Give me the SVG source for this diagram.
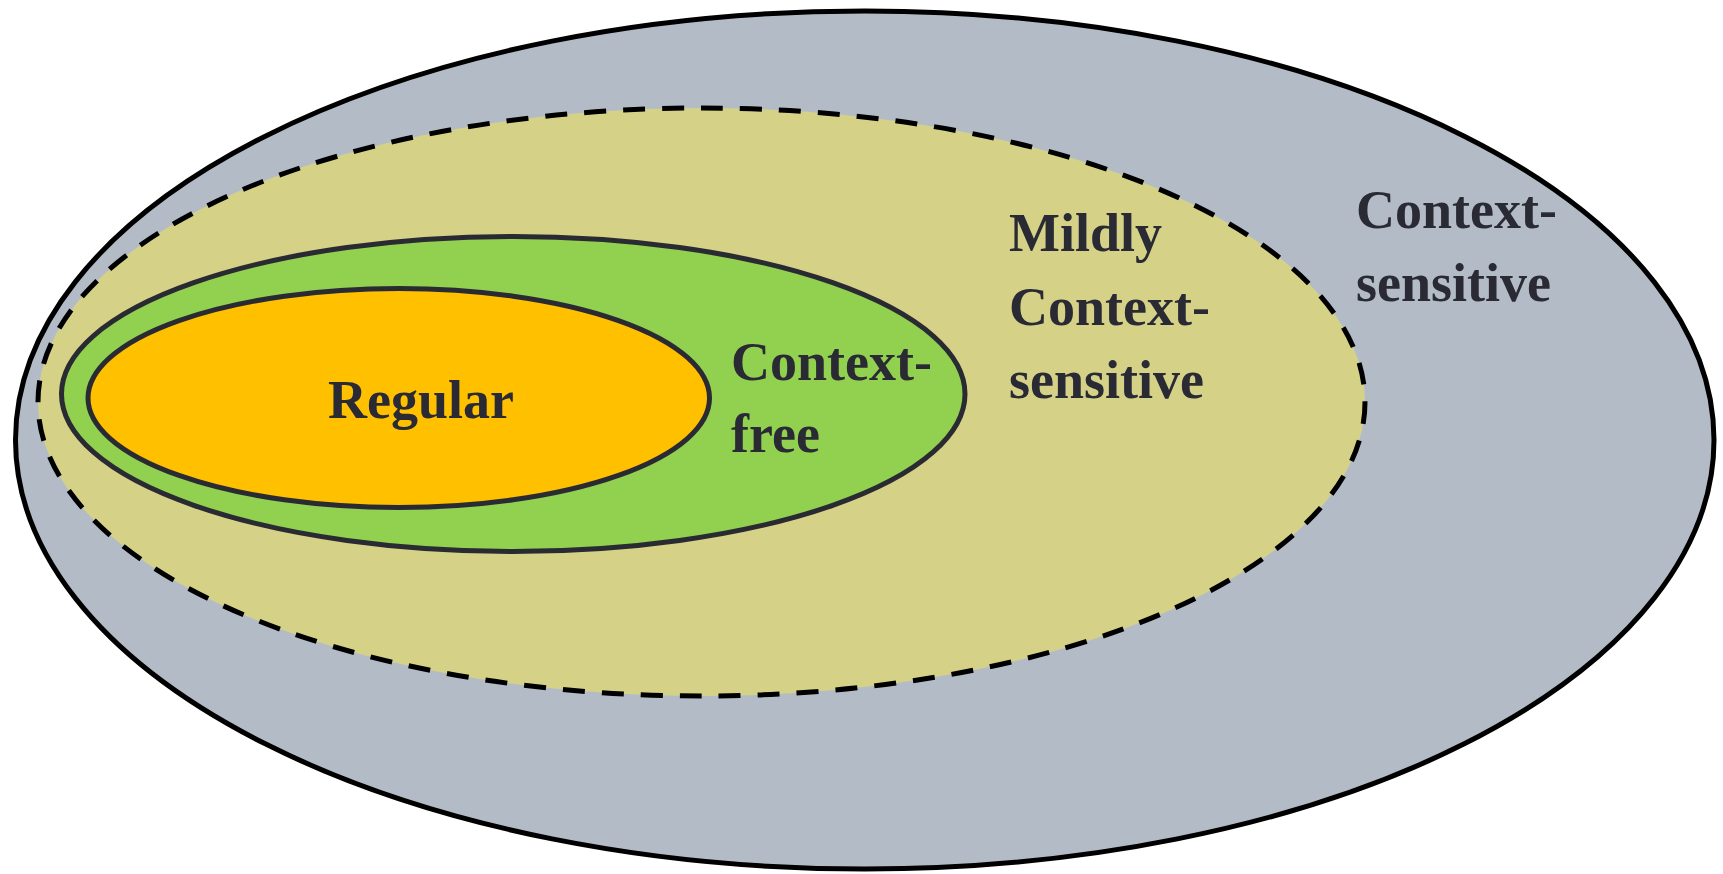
<svg xmlns="http://www.w3.org/2000/svg" width="1723" height="874" viewBox="0 0 1723 874">
<style>
.lbl{font-family:"Liberation Serif","Times New Roman",serif;font-weight:bold;font-size:54px;fill:#2a2a35}
.solid{stroke:#2a2a33;stroke-width:5}
</style>
<rect width="1723" height="874" fill="#ffffff"/>
<g id="context-sensitive">
<ellipse cx="864.75" cy="440" rx="849.25" ry="429" fill="#b3bcc6" stroke="#000000" stroke-width="5"/>
<text class="lbl" x="1356" y="228">Context-</text>
<text class="lbl" x="1356" y="301">sensitive</text>
</g>
<g id="mildly-context-sensitive">
<ellipse cx="701.5" cy="402" rx="663.5" ry="294" fill="#d5d288" stroke="#000000" stroke-width="5" stroke-dasharray="22 17"/>
<text class="lbl" x="1009" y="251">Mildly</text>
<text class="lbl" x="1009" y="325">Context-</text>
<text class="lbl" x="1009" y="398">sensitive</text>
</g>
<g id="context-free">
<ellipse class="solid" cx="513.25" cy="394" rx="451.75" ry="157.5" fill="#92d050"/>
<text class="lbl" x="731" y="380">Context-</text>
<text class="lbl" x="731" y="452">free</text>
</g>
<g id="regular">
<ellipse class="solid" cx="398.75" cy="398" rx="310.75" ry="109.5" fill="#ffc000"/>
<text class="lbl" x="328" y="418">Regular</text>
</g>
<g id="connectors"></g>
</svg>
